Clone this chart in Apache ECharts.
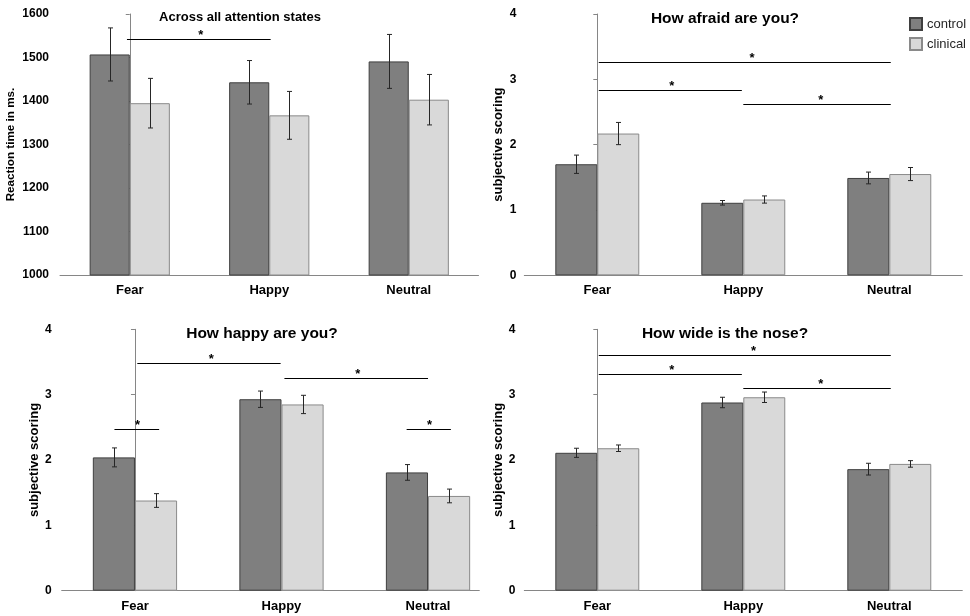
<!DOCTYPE html>
<html><head><meta charset="utf-8">
<script src="https://cdn.jsdelivr.net/npm/echarts@6/dist/echarts.min.js"></script>
<style>html,body{margin:0;padding:0;background:#fff}#c{width:970px;height:616px}</style>
</head><body><div id="c"></div>
<script>
// ---------- data ----------
const categories = ['Fear', 'Happy', 'Neutral'];
const groupNames = ['control', 'clinical'];

// Panel 1: reaction time
const rtTitle = 'Across all attention states';
const rtAxisName = 'Reaction time in ms.';
const rtControl = [1507, 1443, 1491];
const rtClinical = [1395, 1367, 1403];
const rtControlErr = [61, 50, 62];
const rtClinicalErr = [57, 55, 58];
const rtSig = [[-0.02, 1.01, 1542, 0.51]]; // [from, to, level, star position]

// Panel 2: afraid
const afraidTitle = 'How afraid are you?';
const afraidControl = [1.70, 1.11, 1.49];
const afraidClinical = [2.17, 1.16, 1.55];
const afraidControlErr = [0.14, 0.035, 0.09];
const afraidClinicalErr = [0.17, 0.055, 0.10];
const afraidSig = [[0.01, 2.01, 3.27, 1.06], [0.01, 0.99, 2.83, 0.51], [1.0, 2.01, 2.62, 1.53]];

// Panel 3: happy
const happyTitle = 'How happy are you?';
const happyControl = [2.04, 2.93, 1.81];
const happyClinical = [1.38, 2.85, 1.45];
const happyControlErr = [0.145, 0.125, 0.12];
const happyClinicalErr = [0.105, 0.14, 0.105];
const happySig = [[0.016, 0.994, 3.48, 0.52], [1.02, 2.0, 3.26, 1.52], [-0.14, 0.165, 2.48, 0.018], [1.854, 2.156, 2.48, 2.01]];

// Panel 4: nose
const noseTitle = 'How wide is the nose?';
const noseControl = [2.11, 2.88, 1.86];
const noseClinical = [2.18, 2.96, 1.94];
const noseControlErr = [0.07, 0.08, 0.09];
const noseClinicalErr = [0.05, 0.08, 0.05];
const noseSig = [[0.01, 2.01, 3.61, 1.07], [0.01, 0.99, 3.31, 0.51], [1.0, 2.01, 3.10, 1.53]];

const scoreAxisName = 'subjective scoring';

// ---------- styling / layout ----------
const FONT = 'Liberation Sans, Arial, sans-serif';
const AXIS_COLOR = '#868686';
const GAP = 0.425;
const colors = {control: '#7f7f7f', clinical: '#d9d9d9'};
const borders = {control: '#3f3f3f', clinical: '#8a8a8a'};

const panels = [
  {title: rtTitle, tx: 240, ty: 10.5, tfs: 13, name: rtAxisName, nameGap: 43, nfs: 11.7,
   ctrl: rtControl, clin: rtClinical, ctrlErr: rtControlErr, clinErr: rtClinicalErr, sig: rtSig,
   grid: {left: 60, top: 14, width: 418.5, height: 261}, xmax: 2.5,
   y: {min: 1000, max: 1600, interval: 100}, labelMargin: 11},
  {title: afraidTitle, tx: 725, ty: 10.5, tfs: 15.5, name: scoreAxisName, nameGap: 19, nfs: 13,
   ctrl: afraidControl, clin: afraidClinical, ctrlErr: afraidControlErr, clinErr: afraidClinicalErr, sig: afraidSig,
   grid: {left: 524.3, top: 14, width: 438, height: 261.3}, xmax: 2.5,
   y: {min: 0, max: 4, interval: 1}, labelMargin: 8},
  {title: happyTitle, tx: 262, ty: 326, tfs: 15.5, name: scoreAxisName, nameGap: 20, nfs: 13,
   ctrl: happyControl, clin: happyClinical, ctrlErr: happyControlErr, clinErr: happyClinicalErr, sig: happySig,
   grid: {left: 61.7, top: 329.3, width: 417.6, height: 261.4}, xmax: 2.35,
   y: {min: 0, max: 4, interval: 1}, labelMargin: 10},
  {title: noseTitle, tx: 725, ty: 325.5, tfs: 15.5, name: scoreAxisName, nameGap: 19, nfs: 13,
   ctrl: noseControl, clin: noseClinical, ctrlErr: noseControlErr, clinErr: noseClinicalErr, sig: noseSig,
   grid: {left: 524.3, top: 329.3, width: 438, height: 261.4}, xmax: 2.5,
   y: {min: 0, max: 4, interval: 1}, labelMargin: 9}
];

function errRender(sign) {
  return function (params, api) {
    const i = api.value(0), v = api.value(1), e = api.value(2);
    const band = api.size([1, 0])[0];
    const off = sign * band * (1 - GAP) / 4;
    const top = api.coord([i, v + e]);
    const bot = api.coord([i, v - e]);
    const x = Math.round(top[0] + off) + 0.5;
    const st = {stroke: '#262626', lineWidth: 1};
    return {type: 'group', children: [
      {type: 'line', shape: {x1: x, y1: top[1], x2: x, y2: bot[1]}, style: st},
      {type: 'line', shape: {x1: x - 2.5, y1: top[1], x2: x + 2.5, y2: top[1]}, style: st},
      {type: 'line', shape: {x1: x - 2.5, y1: bot[1], x2: x + 2.5, y2: bot[1]}, style: st}
    ]};
  };
}

function sigRender(params, api) {
  const lvl = api.value(2);
  const p1 = api.coord([api.value(0), lvl]);
  const p2 = api.coord([api.value(1), lvl]);
  const ps = api.coord([api.value(3), lvl]);
  const y = Math.round(p1[1]) + 0.5;
  return {type: 'group', children: [
    {type: 'line', shape: {x1: p1[0], y1: y, x2: p2[0], y2: y}, style: {stroke: '#000', lineWidth: 1.2}},
    {type: 'text', x: ps[0], y: y - 4, style: {text: '*', textAlign: 'center', align: 'center',
      textVerticalAlign: 'middle', verticalAlign: 'middle', font: 'bold 13px ' + FONT, fill: '#000'}}
  ]};
}

const option = {
  animation: false,
  backgroundColor: '#fff',
  textStyle: {fontFamily: FONT},
  title: [], grid: [], xAxis: [], yAxis: [], series: [],
  legend: {
    data: groupNames, orient: 'vertical', left: 909, top: 17, padding: 0,
    itemWidth: 12, itemHeight: 12, itemGap: 6, icon: 'rect',
    textStyle: {fontSize: 13, color: '#262626', fontFamily: FONT}
  }
};

panels.forEach((p, k) => {
  option.title.push({
    text: p.title, left: p.tx, top: p.ty, textAlign: 'center', padding: 0,
    textStyle: {fontSize: p.tfs, fontWeight: 'bold', color: '#000', fontFamily: FONT}
  });
  option.grid.push(Object.assign({outerBoundsMode: 'none', containLabel: false}, p.grid));
  option.xAxis.push({
    type: 'value', gridIndex: k, min: -0.5, max: p.xmax,
    axisLine: {show: true, lineStyle: {color: AXIS_COLOR, width: 1}},
    axisTick: {show: false}, splitLine: {show: false},
    axisLabel: {customValues: [0, 1, 2], formatter: v => categories[Math.round(v)],
      fontSize: 13, fontWeight: 'bold', color: '#000', margin: 9, fontFamily: FONT}
  });
  option.yAxis.push({
    type: 'value', gridIndex: k, min: p.y.min, max: p.y.max, interval: p.y.interval,
    name: p.name, nameLocation: 'middle', nameRotate: 90, nameGap: p.nameGap,
    nameTextStyle: {fontSize: p.nfs, fontWeight: 'bold', color: '#000', fontFamily: FONT},
    axisLine: {show: true, lineStyle: {color: AXIS_COLOR, width: 1}},
    axisTick: {show: true, inside: false, length: 4, lineStyle: {color: AXIS_COLOR}},
    splitLine: {show: false},
    axisLabel: {formatter: v => String(v), fontSize: 12, fontWeight: 'bold', color: '#000',
      margin: p.labelMargin, fontFamily: FONT}
  });
  const groups = [[groupNames[0], p.ctrl, p.ctrlErr, -1], [groupNames[1], p.clin, p.clinErr, 1]];
  groups.forEach(g => {
    option.series.push({
      type: 'bar', name: g[0], xAxisIndex: k, yAxisIndex: k,
      barGap: '0%', barCategoryGap: (GAP * 100) + '%',
      itemStyle: {color: colors[g[0]], borderColor: borders[g[0]], borderWidth: 1},
      data: g[1].map((v, i) => [i, v])
    });
  });
  groups.forEach(g => {
    option.series.push({
      type: 'custom', xAxisIndex: k, yAxisIndex: k, z: 5,
      renderItem: errRender(g[3]),
      encode: {x: 0, y: 1},
      data: g[1].map((v, i) => [i, v, g[2][i]])
    });
  });
  option.series.push({
    type: 'custom', xAxisIndex: k, yAxisIndex: k, z: 6,
    renderItem: sigRender,
    encode: {x: [0, 1, 3], y: 2},
    data: p.sig
  });
});

const chart = echarts.init(document.getElementById('c'), null, {renderer: 'canvas'});
chart.setOption(option);
</script>
</body></html>
